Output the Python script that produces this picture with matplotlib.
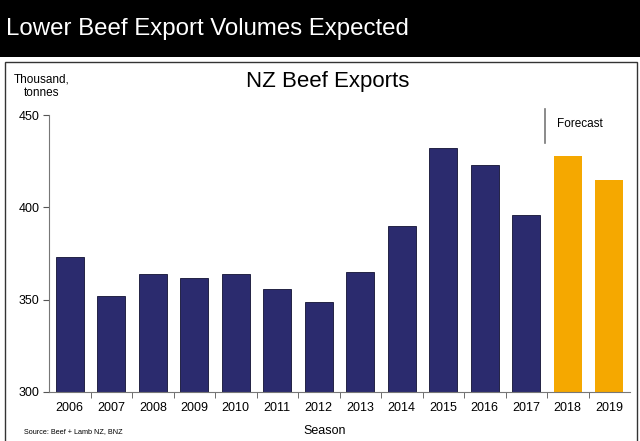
import matplotlib
matplotlib.use("Agg")
import matplotlib.pyplot as plt
from matplotlib.patches import Rectangle

plt.rcParams['font.family'] = ['Liberation Sans', 'DejaVu Sans']

seasons = ['2006', '2007', '2008', '2009', '2010', '2011', '2012', '2013',
           '2014', '2015', '2016', '2017', '2018', '2019']
exports = [373, 352, 364, 362, 364, 356, 349, 365, 390, 432, 423, 396, 428, 415]
forecast = [False] * 12 + [True] * 2
yticks = [300, 350, 400, 450]

navy = '#2B2B6E'
orange = '#F5A800'

W, H = 640, 441
fig = plt.figure(figsize=(W / 100, H / 100), dpi=100)

# header band
fig.patches.append(Rectangle((0, 1 - 57 / H), 1, 57 / H, transform=fig.transFigure,
                             facecolor='black', edgecolor='none', zorder=0))
fig.text(6 / W, 1 - 29 / H, 'Lower Beef Export Volumes Expected', color='white',
         fontsize=17.3, va='center', ha='left')
# framed box
fig.patches.append(Rectangle((5 / W, -0.01), 632 / W, 1 - 62 / H + 0.01,
                             transform=fig.transFigure, facecolor='none',
                             edgecolor='#333333', linewidth=1.0, zorder=0))

ax = fig.add_axes([49 / W, 1 - 392 / H, (630 - 49) / W, (392 - 115) / H])
colors = [orange if f else navy for f in forecast]
x = list(range(len(seasons)))
ax.bar(x, [v - 300 for v in exports], bottom=300, width=0.67, color=colors,
       edgecolor=['none' if f else '#111133' for f in forecast], linewidth=0.6)
ax.set_xlim(-0.5, len(seasons) - 0.5)
ax.set_ylim(300, 450)
ax.set_yticks(yticks)
ax.set_yticklabels([str(t) for t in yticks], fontsize=9)
ax.set_xticks(x)
ax.set_xticklabels(seasons, fontsize=9)
ax.tick_params(axis='x', length=0, pad=7)
ax.set_xticks([i + 0.5 for i in x[:-1]], minor=True)
ax.tick_params(axis='x', which='minor', length=4, color='#555555', direction='out')
ax.tick_params(axis='y', length=4, color='#555555', direction='out', pad=3)
for s in ['top', 'right']:
    ax.spines[s].set_visible(False)
ax.spines['left'].set_color('#777777')
ax.spines['bottom'].set_color('#777777')

# forecast marker
fig.add_artist(plt.Line2D([545 / W, 545 / W], [1 - 109 / H, 1 - 143 / H],
                          color='#777777', linewidth=1.2, transform=fig.transFigure))
fig.text(557 / W, 1 - 124 / H, 'Forecast', fontsize=8.5, va='center', ha='left')

fig.text(328 / W, 1 - 82 / H, 'NZ Beef Exports', fontsize=16, ha='center', va='center')
fig.text(42 / W, 1 - 86 / H, 'Thousand,\ntonnes', fontsize=8.5, ha='center', va='center',
         linespacing=1.2)
fig.text(325 / W, 1 - 431 / H, 'Season', fontsize=9, ha='center', va='center')
fig.text(24 / W, 1 - 432 / H, 'Source: Beef + Lamb NZ, BNZ', fontsize=5.2,
         ha='left', va='center')

fig.savefig('out.png', dpi=100)
